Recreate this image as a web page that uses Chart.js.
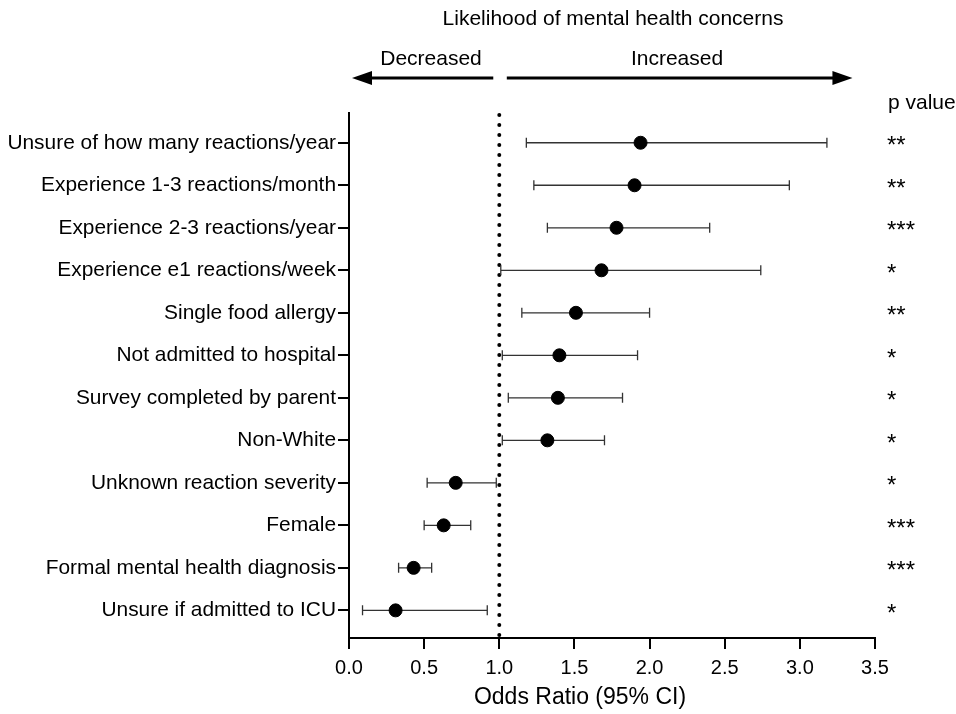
<!DOCTYPE html>
<html>
<head>
<meta charset="utf-8">
<script src="https://cdn.jsdelivr.net/npm/chart.js@4"></script>
<style>
  html, body { margin: 0; padding: 0; background: #fff; }
  #wrap { width: 956px; height: 714px; }
</style>
</head>
<body>
<div id="wrap"><canvas id="forest" width="956" height="714"></canvas></div>
<script>
// rows, top to bottom
const labels = [
  'Unsure of how many reactions/year',
  'Experience 1-3 reactions/month',
  'Experience 2-3 reactions/year',
  'Experience e1 reactions/week',
  'Single food allergy',
  'Not admitted to hospital',
  'Survey completed by parent',
  'Non-White',
  'Unknown reaction severity',
  'Female',
  'Formal mental health diagnosis',
  'Unsure if admitted to ICU'
];
const oddsRatio = [1.94, 1.90, 1.78, 1.68, 1.51, 1.40, 1.39, 1.32, 0.71, 0.63, 0.43, 0.31];
const ciLow     = [1.18, 1.23, 1.32, 1.01, 1.15, 1.02, 1.06, 1.02, 0.52, 0.50, 0.33, 0.09];
const ciHigh    = [3.18, 2.93, 2.40, 2.74, 2.00, 1.92, 1.82, 1.70, 0.98, 0.81, 0.55, 0.92];
const pStars    = ['**', '**', '***', '*', '**', '*', '*', '*', '*', '***', '***', '*'];

const FONT = "'Liberation Sans', Arial, sans-serif";

// error bars, reference line, header arrows and p values
const forestDecor = {
    id: 'forestDecor',
    beforeDatasetsDraw(chart) {
        const { ctx, scales: { x, y } } = chart;
        const area = chart.chartArea;

        // dotted line at OR = 1
        ctx.save();
        ctx.strokeStyle = '#000';
        ctx.lineWidth = 4;
        ctx.lineCap = 'round';
        ctx.setLineDash([0, 10]);
        const x1 = x.getPixelForValue(1);
        ctx.beginPath();
        ctx.moveTo(x1, area.top + 2);
        ctx.lineTo(x1, area.bottom);
        ctx.stroke();
        ctx.restore();

        // CI whiskers
        ctx.save();
        ctx.strokeStyle = '#333';
        ctx.lineWidth = 1.3;
        oddsRatio.forEach((v, i) => {
            const py = y.getPixelForValue(i);
            const a = x.getPixelForValue(ciLow[i]);
            const b = x.getPixelForValue(ciHigh[i]);
            ctx.beginPath();
            ctx.moveTo(a, py); ctx.lineTo(b, py);
            ctx.moveTo(a, py - 5); ctx.lineTo(a, py + 5);
            ctx.moveTo(b, py - 5); ctx.lineTo(b, py + 5);
            ctx.stroke();
        });
        ctx.restore();
    },
    afterDraw(chart) {
        const { ctx, scales: { x, y } } = chart;
        ctx.save();
        ctx.fillStyle = '#000';
        ctx.strokeStyle = '#000';
        ctx.textBaseline = 'middle';

        // title + arrows
        ctx.font = '21px ' + FONT;
        ctx.textAlign = 'center';
        ctx.fillText('Likelihood of mental health concerns', 613, 19);
        ctx.fillText('Decreased', 431, 59);
        ctx.fillText('Increased', 677, 59);

        const ay = 78;
        const drawArrow = (from, to) => {
            const dir = to > from ? 1 : -1;
            ctx.lineWidth = 3;
            ctx.beginPath();
            ctx.moveTo(from, ay);
            ctx.lineTo(to - dir * 16, ay);
            ctx.stroke();
            ctx.beginPath();
            ctx.moveTo(to, ay);
            ctx.lineTo(to - dir * 20, ay - 7);
            ctx.lineTo(to - dir * 20, ay + 7);
            ctx.closePath();
            ctx.fill();
        };
        drawArrow(x.getPixelForValue(0.96), x.getPixelForValue(0.02));
        drawArrow(x.getPixelForValue(1.05), x.getPixelForValue(3.35));

        // x axis title (sits left of the axis centre in the original)
        ctx.font = '23px ' + FONT;
        ctx.fillText('Odds Ratio (95% CI)', 580, 698);

        // p values
        ctx.font = '21px ' + FONT;
        ctx.textAlign = 'left';
        ctx.fillText('p value', 888, 103);
        ctx.font = '24px ' + FONT;
        pStars.forEach((s, i) => {
            ctx.fillText(s, 887, y.getPixelForValue(i) + 4);
        });
        ctx.restore();
    }
};

new Chart(document.getElementById('forest'), {
    type: 'scatter',
    data: {
        datasets: [{
            data: oddsRatio.map((v, i) => ({ x: v, y: i })),
            backgroundColor: '#000',
            borderColor: '#000',
            pointRadius: 6.5,
            pointHoverRadius: 6.5
        }]
    },
    options: {
        responsive: false,
        animation: false,
        layout: { padding: { top: 113, right: 81, left: 0, bottom: 0 } },
        plugins: { legend: { display: false }, tooltip: { enabled: false } },
        scales: {
            x: {
                type: 'linear',
                min: 0,
                max: 3.5,
                afterFit: s => { s.height = 76; },
                ticks: {
                    stepSize: 0.5,
                    color: '#000',
                    padding: 7,
                    font: { family: FONT, size: 20 },
                    callback: v => v.toFixed(1)
                },
                grid: { drawOnChartArea: false, drawTicks: true, tickLength: 11, color: '#000', lineWidth: 2 },
                border: { color: '#000', width: 2 }
            },
            y: {
                type: 'linear',
                reverse: true,
                min: -0.7,
                max: 11.65,
                afterFit: s => { s.width = 349; },
                afterBuildTicks: s => { s.ticks = labels.map((l, i) => ({ value: i })); },
                ticks: {
                    color: '#000',
                    padding: 2,
                    font: { family: FONT, size: 20.9 },
                    callback: v => labels[v]
                },
                grid: { drawOnChartArea: false, drawTicks: true, tickLength: 11, color: '#000', lineWidth: 2 },
                border: { color: '#000', width: 2 }
            }
        }
    },
    plugins: [forestDecor]
});
</script>
</body>
</html>
